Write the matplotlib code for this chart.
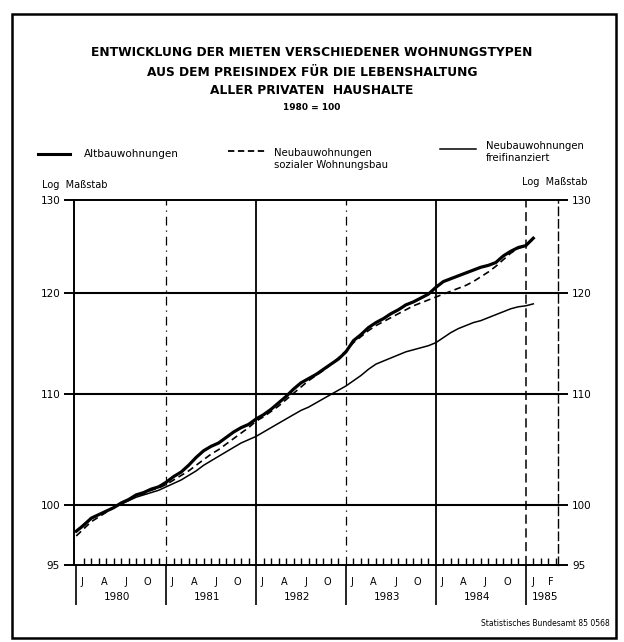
import matplotlib
matplotlib.use("Agg")
import matplotlib.pyplot as plt
from matplotlib.patches import Rectangle

# months since Jan 1980 (Jan 1980 .. Feb 1985)
months = list(range(62))

# Altbauwohnungen (thick solid)
altbau = [97.8, 98.3, 98.9, 99.2, 99.5, 99.8, 100.2, 100.5, 100.9, 101.1, 101.4, 101.6,
          102.0, 102.5, 102.9, 103.5, 104.2, 104.8, 105.2, 105.5, 106.0, 106.5, 106.9, 107.2,
          107.7, 108.1, 108.6, 109.2, 109.8, 110.5, 111.1, 111.5, 111.9, 112.4, 112.9, 113.4,
          114.1, 115.2, 115.8, 116.5, 117.0, 117.4, 117.9, 118.3, 118.8, 119.1, 119.5, 119.9,
          120.6, 121.2, 121.5, 121.8, 122.1, 122.4, 122.7, 122.9, 123.2, 123.9, 124.4, 124.8,
          125.0, 125.8]

# Neubauwohnungen sozialer Wohnungsbau (dashed)
sozial = [97.4, 98.0, 98.6, 99.0, 99.4, 99.8, 100.2, 100.5, 100.8, 101.0, 101.3, 101.5,
          101.8, 102.2, 102.6, 103.0, 103.5, 104.0, 104.5, 104.9, 105.4, 105.9, 106.4, 106.9,
          107.5, 107.9, 108.4, 108.9, 109.5, 110.1, 110.7, 111.3, 111.8, 112.3, 112.9, 113.5,
          114.2, 115.0, 115.6, 116.2, 116.7, 117.1, 117.5, 117.9, 118.3, 118.7, 119.0, 119.3,
          119.6, 119.9, 120.2, 120.5, 120.8, 121.2, 121.7, 122.2, 122.8, 123.5, 124.2, 124.7,
          125.0, 125.7]

# Neubauwohnungen freifinanziert (thin solid)
frei = [97.8, 98.4, 98.9, 99.2, 99.5, 99.8, 100.1, 100.4, 100.7, 100.9, 101.1, 101.3,
        101.6, 101.9, 102.2, 102.6, 103.0, 103.5, 103.9, 104.3, 104.7, 105.1, 105.5, 105.8,
        106.1, 106.5, 106.9, 107.3, 107.7, 108.1, 108.5, 108.8, 109.2, 109.6, 110.0, 110.4,
        110.8, 111.3, 111.8, 112.4, 112.9, 113.2, 113.5, 113.8, 114.1, 114.3, 114.5, 114.7,
        115.0, 115.5, 116.0, 116.4, 116.7, 117.0, 117.2, 117.5, 117.8, 118.1, 118.4, 118.6,
        118.7, 118.9]

yticks = [95, 100, 110, 120, 130]
years = ["1980", "1981", "1982", "1983", "1984", "1985"]
month_letters = ["J", "A", "J", "O"]

W, H = 624, 642
fig = plt.figure(figsize=(W / 100, H / 100), dpi=100)
fig.patch.set_facecolor("white")

def fx(px):
    return px / W

def fy(py):
    return 1 - py / H

# outer frame
fig.patches.append(Rectangle((fx(12), fy(638)), fx(616) - fx(12), fy(14) - fy(638),
                             transform=fig.transFigure, fill=False, lw=1.8, ec="black"))

# titles
fig.text(0.5, fy(52), "ENTWICKLUNG DER MIETEN VERSCHIEDENER WOHNUNGSTYPEN",
         ha="center", va="center", fontsize=8.8, fontweight="bold")
fig.text(0.5, fy(72), "AUS DEM PREISINDEX FÜR DIE LEBENSHALTUNG",
         ha="center", va="center", fontsize=8.8, fontweight="bold")
fig.text(0.5, fy(90), "ALLER PRIVATEN  HAUSHALTE", ha="center", va="center",
         fontsize=8.8, fontweight="bold")
fig.text(0.5, fy(107), "1980 = 100", ha="center", va="center", fontsize=6.5, fontweight="bold")

# legend
fig.add_artist(plt.Line2D([fx(38), fx(70)], [fy(154), fy(154)], color="black", lw=2.2))
fig.text(fx(84), fy(154), "Altbauwohnungen", va="center", fontsize=7.5)
fig.add_artist(plt.Line2D([fx(228), fx(265)], [fy(151), fy(151)], color="black", lw=1.3,
                          dashes=(3.5, 2)))
fig.text(fx(274), fy(159), "Neubauwohnungen\nsozialer Wohnungsbau", va="center",
         fontsize=7.3, linespacing=1.15)
fig.add_artist(plt.Line2D([fx(440), fx(476)], [fy(149), fy(149)], color="black", lw=1.1))
fig.text(fx(486), fy(152), "Neubauwohnungen\nfreifinanziert", va="center",
         fontsize=7.3, linespacing=1.15)

fig.text(fx(42), fy(185), "Log  Maßstab", va="center", fontsize=7)
fig.text(fx(588), fy(182), "Log  Maßstab", va="center", ha="right", fontsize=7)

# main axes
ax = fig.add_axes([fx(74), fy(565), fx(558) - fx(74), fy(200) - fy(565)])
ax.set_yscale("log")
ax.set_ylim(95, 130)
ax.set_xlim(-0.3, 64.3)

for v in [100, 110, 120]:
    ax.axhline(v, color="black", lw=1.5)

for t, ls, lw in [(12, (0, (7, 4, 1, 4)), 0.9), (24, "-", 1.3), (36, (0, (7, 4, 1, 4)), 0.9),
                  (48, "-", 1.3), (60, (0, (6, 3)), 1.1)]:
    ax.axvline(t, color="black", lw=lw, linestyle=ls)

ax.plot(months, frei, color="black", lw=1.1)
ax.plot(months, sozial, color="black", lw=1.2, dashes=(4, 2.5))
ax.plot(months, altbau, color="black", lw=2.3)

for s in ["left", "bottom", "top"]:
    ax.spines[s].set_linewidth(1.4)
ax.spines["right"].set_linewidth(1.0)
ax.spines["right"].set_linestyle((0, (6, 3)))

ax.set_yticks(yticks)
ax.set_yticklabels([str(v) for v in yticks])
ax.yaxis.set_minor_locator(matplotlib.ticker.NullLocator())
ax.tick_params(axis="y", which="major", direction="out", length=7, width=1.4,
               labelsize=7.5, left=True, right=True, labelleft=True, labelright=True, pad=3)

ax.set_xticks([0, 12, 24, 36, 48, 60])
ax.set_xticklabels([])
ax.set_xticks(list(range(0, 65)), minor=True)
ax.tick_params(axis="x", which="major", direction="out", length=29, width=1.2)
ax.tick_params(axis="x", which="minor", direction="in", length=5, width=1.0)

for i, yr in enumerate(years):
    base = 12 * i
    if yr == "1985":
        for lab, off in [("J", 1.0), ("F", 3.3)]:
            ax.annotate(lab, (base + off, 0), xycoords=("data", "axes fraction"),
                        xytext=(0, -12), textcoords="offset points",
                        ha="center", va="center", fontsize=7)
        ax.annotate(yr, (base + 2.6, 0), xycoords=("data", "axes fraction"),
                    xytext=(0, -23), textcoords="offset points",
                    ha="center", va="center", fontsize=7.5)
    else:
        for k, lab in enumerate(month_letters):
            ax.annotate(lab, (base + 0.8 + 2.9 * k, 0), xycoords=("data", "axes fraction"),
                        xytext=(0, -12), textcoords="offset points",
                        ha="center", va="center", fontsize=7)
        ax.annotate(yr, (base + 5.5, 0), xycoords=("data", "axes fraction"),
                    xytext=(0, -23), textcoords="offset points",
                    ha="center", va="center", fontsize=7.5)

fig.text(fx(610), fy(624), "Statistisches Bundesamt 85 0568", ha="right", va="center",
         fontsize=5.5)

fig.savefig("out.png", dpi=100, facecolor="white")
